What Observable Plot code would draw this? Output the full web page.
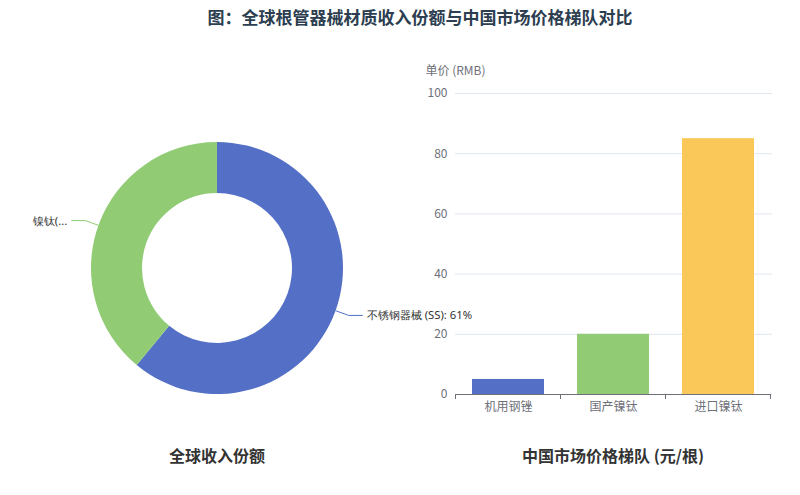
<!DOCTYPE html>
<html><head><meta charset="utf-8">
<script src="https://cdn.jsdelivr.net/npm/d3@7"></script>
<script src="https://cdn.jsdelivr.net/npm/@observablehq/plot@0.6"></script>
<style>
body{margin:0;background:#fff;font-family:"Noto Sans CJK SC","Noto Sans",sans-serif;}
#wrap{position:relative;width:800px;height:495px;overflow:hidden;}
.t{position:absolute;white-space:nowrap;transform:translateX(-50%);}
#title{left:420px;top:4px;font-size:17px;font-weight:bold;color:#2c3e50;}
.sub{top:443px;font-size:16px;font-weight:bold;color:#333;}
#left,#right{position:absolute;top:0;}
#left{left:0;}
#right{left:400px;}
</style></head>
<body><div id="wrap">
<div id="title" class="t"></div>
<div id="left"></div>
<div id="right"></div>
<div id="sub1" class="t sub" style="left:217px"></div>
<div id="sub2" class="t sub" style="left:613px"></div>
</div>
<script>
const titleText = "图：全球根管器械材质收入份额与中国市场价格梯队对比";
const pieTitle = "全球收入份额";
const barTitle = "中国市场价格梯队 (元/根)";
const shareNames = ["不锈钢器械 (SS)", "镍钛 (NiTi)"];
const shareValues = [61, 39];
const shareLabels = ["不锈钢器械 (SS): 61%", "镍钛(..."];
const shareColors = ["#5470c6", "#91cc75"];
const priceCats = ["机用钢锉", "国产镍钛", "进口镍钛"];
const priceValues = [5, 20, 85];
const priceColors = ["#5470c6", "#91cc75", "#fac858"];
const yTicks = [0, 20, 40, 60, 80, 100];
const yName = "单价 (RMB)";

document.getElementById("title").textContent = titleText;
document.getElementById("sub1").textContent = pieTitle;
document.getElementById("sub2").textContent = barTitle;

const shares = shareNames.map((n, i) => ({name: n, value: shareValues[i], label: shareLabels[i]}));
const prices = priceCats.map((c, i) => ({cat: c, value: priceValues[i]}));

// Donut chart
const donut = Plot.plot({
  width: 400, height: 495,
  margin: 0,
  x: {domain: [0, 400], axis: null},
  y: {domain: [495, 0], axis: null},
  color: {domain: shareNames, range: shareColors},
  marks: [
    (index, scales) => {
      const cx = scales.x(217), cy = scales.y(268);
      const R = 126, r = 75;
      const pie = d3.pie().value(d => d.value).sort(null)(shares);
      const arc = d3.arc().innerRadius(r).outerRadius(R);
      const g = d3.create("svg:g").attr("transform", `translate(${cx},${cy})`);
      g.selectAll("path.s").data(pie).join("path")
        .attr("d", arc).attr("fill", d => scales.color(d.data.name));
      pie.forEach(d => {
        const mid = (d.startAngle + d.endAngle) / 2;
        const sx = Math.sin(mid), sy = -Math.cos(mid);
        const p0 = [sx * R, sy * R];
        const p1 = [sx * (R + 14), sy * (R + 14)];
        const dir = sx >= 0 ? 1 : -1;
        const p2 = [p1[0] + dir * 14, p1[1]];
        g.append("path")
          .attr("d", `M${p0}L${p1}L${p2}`)
          .attr("fill", "none")
          .attr("stroke", scales.color(d.data.name))
          .attr("stroke-width", 1);
        g.append("text")
          .attr("x", p2[0] + dir * 4).attr("y", p2[1])
          .attr("dy", "0.35em")
          .attr("text-anchor", dir > 0 ? "start" : "end")
          .attr("font-size", 11.3).attr("fill", "#333")
          .text(d.data.label);
      });
      return g.node();
    }
  ],
  style: {background: "transparent", overflow: "visible"}
});
document.getElementById("left").appendChild(donut);

// Bar chart
const bars = Plot.plot({
  width: 400, height: 495,
  marginLeft: 55, marginRight: 28, marginTop: 93, marginBottom: 101,
  style: {fontFamily: "'Noto Sans CJK SC','Noto Sans',sans-serif", fontSize: "12px", color: "#6e7079", background: "transparent", overflow: "visible"},
  x: {domain: priceCats, paddingInner: 0.31, paddingOuter: 0.155, label: null},
  y: {domain: [0, 100], ticks: yTicks, label: null},
  color: {domain: priceCats, range: priceColors},
  marks: [
    Plot.gridY(yTicks, {stroke: "#e0e6f1", strokeOpacity: 1}),
    Plot.axisY(yTicks, {tickSize: 0, tickPadding: 8, fontSize: 12, fill: "#6e7079", label: null}),
    Plot.barY(prices, {x: "cat", y: "value", fill: "cat"}),
    Plot.axisX({tickSize: 0, tickPadding: 8, fontSize: 12, fill: "#6e7079", label: null}),
    (index, scales, values, dims) => {
      const x = scales.x, y0 = scales.y(0);
      const step = x.step ? x.step() : (dims.width - dims.marginLeft - dims.marginRight) / priceCats.length;
      const bw = x.bandwidth();
      const off = (step - bw) / 2;
      const bounds = priceCats.map(c => x(c) - off);
      bounds.push(x(priceCats[priceCats.length - 1]) + bw + off);
      const g = d3.create("svg:g").attr("stroke", "#6e7079").attr("fill", "none");
      g.append("line").attr("x1", bounds[0]).attr("x2", bounds[bounds.length - 1])
        .attr("y1", y0 + 0.5).attr("y2", y0 + 0.5);
      bounds.forEach(b => g.append("line").attr("x1", b).attr("x2", b).attr("y1", y0).attr("y2", y0 + 5));
      const t = d3.create("svg:text")
        .attr("x", bounds[0]).attr("y", scales.y(100) - 18)
        .attr("text-anchor", "middle").attr("fill", "#6e7079").attr("font-size", 12)
        .text(yName);
      const gg = d3.create("svg:g");
      gg.append(() => g.node());
      gg.append(() => t.node());
      return gg.node();
    }
  ]
});
document.getElementById("right").appendChild(bars);
</script>
</body></html>
